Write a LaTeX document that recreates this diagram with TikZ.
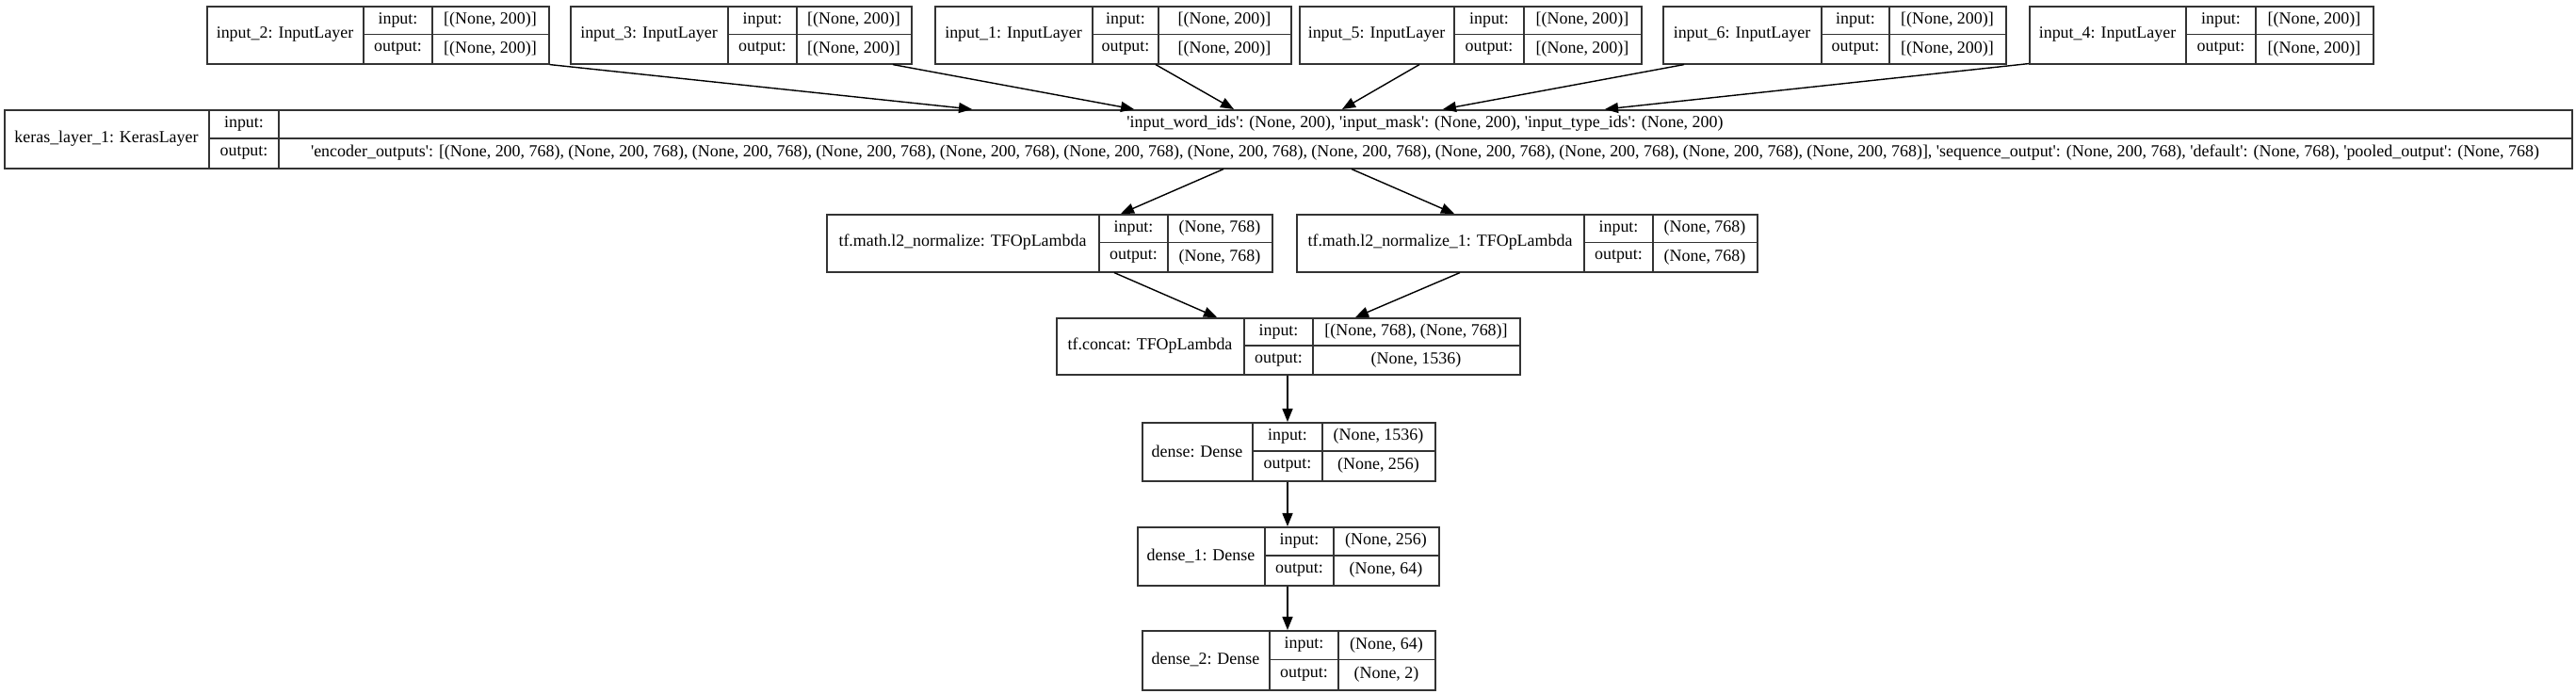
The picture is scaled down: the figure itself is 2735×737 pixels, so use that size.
\documentclass[tikz,border=0pt]{standalone}
\usepackage{fontspec}
\setmainfont{Liberation Serif}[Ligatures=TeXOff]
\usetikzlibrary{arrows.meta,calc}
\tikzset{
  recbox/.style={draw=black!80, line width=0.45pt, inner sep=0pt, fill=white},
  sep/.style={draw=black!80, line width=0.4pt},
  txt/.style={inner sep=0pt, font=\fontsize{5.1}{6}\selectfont},
  arr/.style={line width=0.4pt, -{Triangle[length=0.14cm,width=0.11cm]}}
}
\newcommand{\rec}[8]{%
  \pgfmathsetmacro\rw{(#5-#2)*0.01}%
  \pgfmathsetmacro\rh{(#7-#6)*0.01}%
  \node[recbox, minimum width=\rw cm, minimum height=\rh cm, anchor=north west] (#1) at (#2,#6) {};
  \node[txt] (#1-l) at ({(#2+#3)/2},{(#6+#7)/2}) {#8};
  \draw[sep] (#3,#6) -- (#3,#7) (#4,#6) -- (#4,#7) (#3,{(#6+#7)/2}) -- (#5,{(#6+#7)/2});
  \node[txt] (#1-i) at ({(#3+#4)/2},{(3*#6+#7)/4}) {input:};
  \node[txt] (#1-o) at ({(#3+#4)/2},{(#6+3*#7)/4}) {output:};
  \coordinate (#1-iv) at ({(#4+#5)/2},{(3*#6+#7)/4});
  \coordinate (#1-ov) at ({(#4+#5)/2},{(#6+3*#7)/4});
}
\begin{document}
\begin{tikzpicture}[x=0.01cm,y=-0.01cm]
\useasboundingbox (0,0) rectangle (2735,737);
% input row
\rec{in2}{219}{386}{459}{582}{6}{67}{input\_2: InputLayer}
\rec{in3}{605}{773}{846}{967}{6}{67}{input\_3: InputLayer}
\rec{in1}{992}{1160}{1230}{1370}{6}{67}{input\_1: InputLayer}
\rec{in5}{1379}{1544}{1618}{1742}{6}{67}{input\_5: InputLayer}
\rec{in6}{1765}{1934}{2006}{2129}{6}{67}{input\_6: InputLayer}
\rec{in4}{2154}{2321}{2395}{2519}{6}{67}{input\_4: InputLayer}
\foreach \n in {in2,in3,in1,in5,in6,in4}{
  \node[txt] at (\n-iv) {[(None, 200)]};
  \node[txt] at (\n-ov) {[(None, 200)]};
}
% keras layer
\rec{keras}{4}{222}{296}{2730}{116}{178}{keras\_layer\_1: KerasLayer}
\node[txt] (kin) at (keras-iv) {'input\_word\_ids': (None, 200), 'input\_mask': (None, 200), 'input\_type\_ids': (None, 200)};
\node[txt] (kout) at (keras-ov) {'encoder\_outputs': [(None, 200, 768), (None, 200, 768), (None, 200, 768), (None, 200, 768), (None, 200, 768), (None, 200, 768), (None, 200, 768), (None, 200, 768), (None, 200, 768), (None, 200, 768), (None, 200, 768), (None, 200, 768)], 'sequence\_output': (None, 200, 768), 'default': (None, 768), 'pooled\_output': (None, 768)};
% normalize
\rec{l2a}{877}{1167}{1240}{1350}{227}{288}{tf.math.l2\_normalize: TFOpLambda}
\node[txt] at (l2a-iv) {(None, 768)};
\node[txt] at (l2a-ov) {(None, 768)};
\rec{l2b}{1376}{1682}{1755}{1865}{227}{288}{tf.math.l2\_normalize\_1: TFOpLambda}
\node[txt] at (l2b-iv) {(None, 768)};
\node[txt] at (l2b-ov) {(None, 768)};
% concat
\rec{cat}{1121}{1321}{1394}{1613}{337}{397}{tf.concat: TFOpLambda}
\node[txt] at (cat-iv) {[(None, 768), (None, 768)]};
\node[txt] at (cat-ov) {(None, 1536)};
% dense
\rec{d0}{1212}{1330}{1404}{1523}{448}{510}{dense: Dense}
\node[txt] at (d0-iv) {(None, 1536)};
\node[txt] at (d0-ov) {(None, 256)};
\rec{d1}{1207}{1343}{1416}{1527}{559}{621}{dense\_1: Dense}
\node[txt] at (d1-iv) {(None, 256)};
\node[txt] at (d1-ov) {(None, 64)};
\rec{d2}{1212}{1348}{1421}{1523}{669}{732}{dense\_2: Dense}
\node[txt] at (d2-iv) {(None, 64)};
\node[txt] at (d2-ov) {(None, 2)};
% connectors
\draw[arr] (in2.south east) -- ($(keras.north west)+(1028,0)$);
\draw[arr] ($(in3.south west)+(343,0)$) -- ($(keras.north west)+(1200,0)$);
\draw[arr] ($(in1.south west)+(235,0)$) -- ($(keras.north west)+(1306,0)$);
\draw[arr] ($(in5.south west)+(128,0)$) -- ($(keras.north west)+(1421,0)$);
\draw[arr] ($(in6.south west)+(23,0)$) -- ($(keras.north west)+(1528,0)$);
\draw[arr] ($(in4.south west)+(0,-1)$) -- ($(keras.north west)+(1700,0)$);
\draw[arr] ($(keras.south west)+(1295,0)$) -- ($(l2a.north west)+(313,0)$);
\draw[arr] ($(keras.south west)+(1431,0)$) -- ($(l2b.north west)+(168,0)$);
\draw[arr] ($(l2a.south west)+(306,0)$) -- ($(cat.north west)+(171,0)$);
\draw[arr] ($(l2b.south west)+(174,0)$) -- ($(cat.north west)+(318,0)$);
\draw[arr] ($(cat.south west)+(246,0)$) -- ($(d0.north west)+(155,0)$);
\draw[arr] ($(d0.south west)+(155,0)$) -- ($(d1.north west)+(160,0)$);
\draw[arr] ($(d1.south west)+(160,0)$) -- ($(d2.north west)+(155,0)$);
\end{tikzpicture}
\end{document}
